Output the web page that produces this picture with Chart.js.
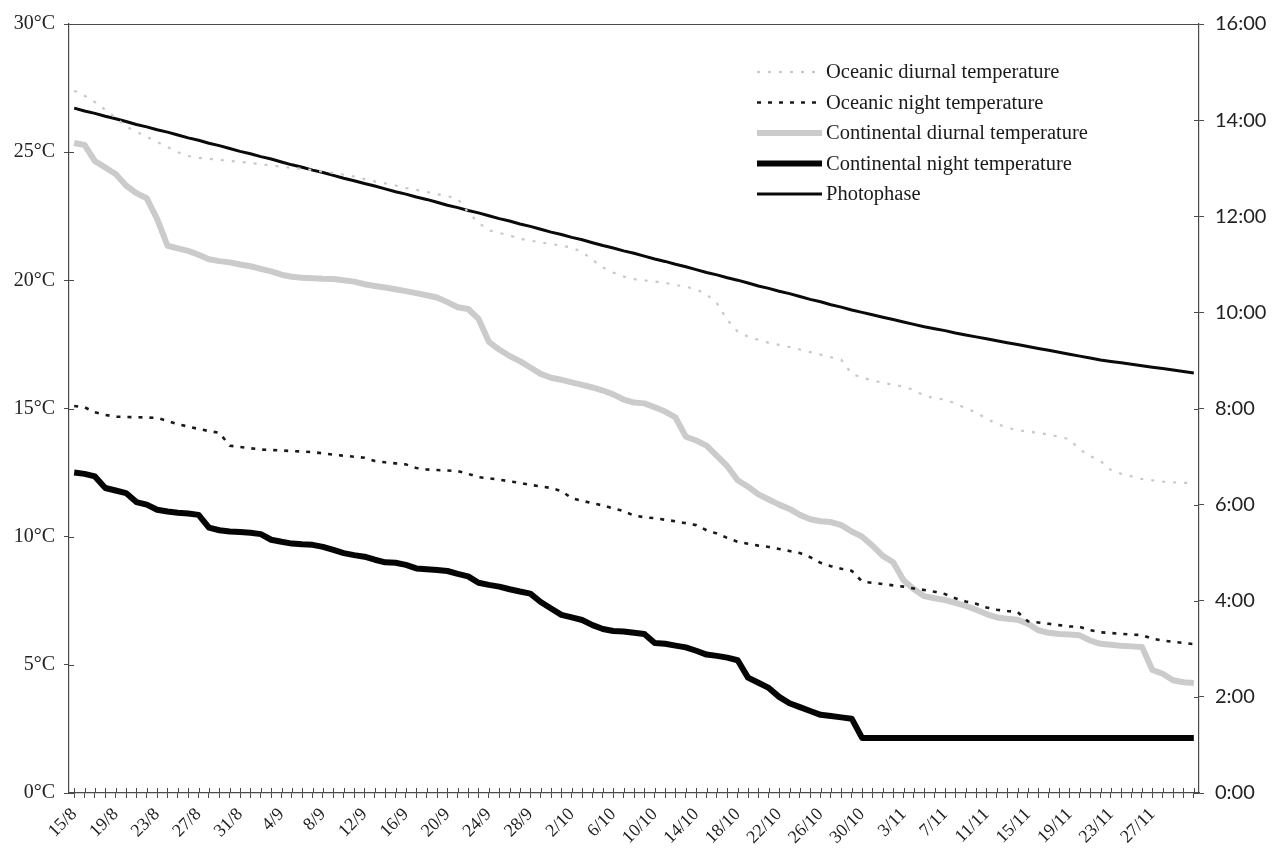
<!DOCTYPE html>
<html>
<head>
<meta charset="utf-8">
<script src="https://cdn.jsdelivr.net/npm/chart.js@4/dist/chart.umd.min.js"></script>
<style>
  html, body { margin: 0; padding: 0; background: #ffffff; }
  #wrap { width: 1273px; height: 854px; }
</style>
</head>
<body>
<div id="wrap"><canvas id="c" width="1273" height="854"></canvas></div>
<script>
// Categories: one per day, 15/8 to 1/12
const days = [
  "15/8","16/8","17/8","18/8","19/8","20/8","21/8","22/8","23/8","24/8","25/8","26/8","27/8","28/8","29/8","30/8","31/8",
  "1/9","2/9","3/9","4/9","5/9","6/9","7/9","8/9","9/9","10/9","11/9","12/9","13/9","14/9","15/9","16/9","17/9","18/9","19/9","20/9",
  "21/9","22/9","23/9","24/9","25/9","26/9","27/9","28/9","29/9","30/9",
  "1/10","2/10","3/10","4/10","5/10","6/10","7/10","8/10","9/10","10/10","11/10","12/10","13/10","14/10","15/10","16/10","17/10",
  "18/10","19/10","20/10","21/10","22/10","23/10","24/10","25/10","26/10","27/10","28/10","29/10","30/10","31/10",
  "1/11","2/11","3/11","4/11","5/11","6/11","7/11","8/11","9/11","10/11","11/11","12/11","13/11","14/11","15/11","16/11","17/11",
  "18/11","19/11","20/11","21/11","22/11","23/11","24/11","25/11","26/11","27/11","28/11","29/11","30/11",
  "1/12"
];

// Tick labels shown on the x axis
const tickLabels = ["15/8","19/8","23/8","27/8","31/8","4/9","8/9","12/9","16/9","20/9","24/9","28/9","2/10","6/10",
  "10/10","14/10","18/10","22/10","26/10","30/10","3/11","7/11","11/11","15/11","19/11","23/11","27/11"];

// Temperature tick values (°C) and photophase tick values (hours)
const tempTicks = [0, 5, 10, 15, 20, 25, 30];
const hourTicks = [0, 2, 4, 6, 8, 10, 12, 14, 16];

// Series (°C)
const oceanicDiurnal = [27.4,27.2,26.95,26.65,26.35,26.0,25.8,25.6,25.4,25.2,
  25.0,24.85,24.78,24.74,24.7,24.66,24.62,24.58,24.53,24.48,
  24.43,24.39,24.35,24.3,24.24,24.19,24.12,24.05,23.95,23.86,
  23.78,23.7,23.6,23.53,23.45,23.36,23.28,23.18,22.65,22.25,
  21.95,21.85,21.75,21.62,21.55,21.48,21.42,21.35,21.28,21.1,
  20.8,20.5,20.3,20.15,20.05,20.0,19.95,19.9,19.82,
  19.75,19.65,19.45,19.1,18.45,18.0,17.8,17.68,17.56,17.48,
  17.4,17.3,17.2,17.1,17.0,16.9,16.35,16.2,16.1,16.0,
  15.93,15.85,15.72,15.5,15.4,15.35,15.2,15.0,14.85,14.6,
  14.4,14.25,14.15,14.1,14.05,13.98,13.9,13.8,13.4,13.15,
  12.95,12.6,12.45,12.35,12.25,12.2,12.15,12.12,12.1,12.1];

const oceanicNight = [15.1,15.05,14.85,14.75,14.68,14.67,14.66,14.65,14.63,14.52,
  14.38,14.3,14.2,14.12,14.05,13.55,13.5,13.45,13.4,13.38,
  13.36,13.34,13.32,13.3,13.25,13.2,13.16,13.12,13.08,12.95,
  12.9,12.86,12.82,12.68,12.62,12.6,12.58,12.56,12.45,12.32,
  12.28,12.22,12.16,12.1,12.02,11.96,11.9,11.78,11.5,11.4,
  11.3,11.22,11.1,11.0,10.82,10.76,10.72,10.66,10.6,
  10.52,10.45,10.25,10.12,9.95,9.8,9.72,9.65,9.6,9.52,
  9.44,9.36,9.2,8.98,8.85,8.75,8.67,8.25,8.2,8.15,
  8.1,8.05,7.98,7.92,7.85,7.76,7.6,7.47,7.38,7.24,
  7.15,7.1,7.06,6.7,6.65,6.6,6.55,6.5,6.48,6.35,
  6.27,6.24,6.21,6.18,6.16,6.02,5.95,5.9,5.85,5.81];

const continentalDiurnal = [25.36,25.28,24.65,24.4,24.15,23.7,23.4,23.2,22.4,21.35,
  21.25,21.15,21.0,20.82,20.75,20.7,20.62,20.55,20.45,20.35,
  20.22,20.14,20.1,20.08,20.06,20.05,20.0,19.95,19.85,19.78,
  19.72,19.65,19.58,19.5,19.42,19.33,19.15,18.95,18.88,18.5,
  17.6,17.3,17.05,16.85,16.6,16.35,16.2,16.12,16.02,15.92,
  15.82,15.7,15.55,15.35,15.23,15.2,15.05,14.88,14.65,
  13.9,13.75,13.55,13.15,12.75,12.2,11.95,11.65,11.45,11.25,
  11.08,10.85,10.68,10.6,10.57,10.45,10.2,10.0,9.65,9.25,
  9.0,8.3,7.95,7.68,7.6,7.53,7.42,7.3,7.15,6.98,
  6.85,6.8,6.76,6.6,6.35,6.25,6.2,6.18,6.15,5.95,
  5.82,5.78,5.74,5.72,5.7,4.8,4.65,4.4,4.32,4.29];

const continentalNight = [12.5,12.45,12.35,11.9,11.8,11.7,11.35,11.25,11.05,10.98,
  10.93,10.9,10.85,10.35,10.25,10.2,10.18,10.15,10.1,9.88,
  9.8,9.73,9.7,9.68,9.6,9.48,9.36,9.28,9.22,9.1,
  9.0,8.98,8.9,8.76,8.73,8.7,8.66,8.55,8.45,8.2,
  8.12,8.05,7.95,7.86,7.78,7.45,7.2,6.95,6.85,6.75,
  6.55,6.4,6.32,6.3,6.25,6.2,5.85,5.82,5.75,
  5.68,5.55,5.4,5.35,5.28,5.18,4.5,4.3,4.1,3.75,
  3.5,3.35,3.2,3.05,3.0,2.95,2.9,2.15,2.15,2.15,
  2.15,2.15,2.15,2.15,2.15,2.15,2.15,2.15,2.15,2.15,
  2.15,2.15,2.15,2.15,2.15,2.15,2.15,2.15,2.15,2.15,
  2.15,2.15,2.15,2.15,2.15,2.15,2.15,2.15,2.15,2.15];

// Photophase (hours of daylight)
const photophase = [14.25,14.19,14.14,14.08,14.03,13.97,13.91,13.86,13.80,13.75,
  13.69,13.63,13.58,13.52,13.47,13.41,13.35,13.30,13.24,13.19,
  13.13,13.07,13.02,12.96,12.91,12.85,12.79,12.74,12.68,12.63,
  12.57,12.51,12.46,12.40,12.35,12.29,12.23,12.18,12.12,12.07,
  12.01,11.95,11.90,11.84,11.79,11.73,11.67,11.62,11.56,11.51,
  11.45,11.39,11.34,11.28,11.23,11.17,11.11,11.06,11.00,10.95,
  10.89,10.83,10.78,10.72,10.67,10.61,10.55,10.50,10.44,10.39,
  10.33,10.27,10.22,10.16,10.11,10.05,10.00,9.95,9.90,9.85,
  9.80,9.75,9.70,9.66,9.62,9.57,9.53,9.49,9.45,9.41,
  9.37,9.33,9.29,9.25,9.21,9.17,9.13,9.09,9.05,9.01,
  8.98,8.95,8.92,8.89,8.86,8.83,8.80,8.77,8.74];

const seriesNames = ["Oceanic diurnal temperature","Oceanic night temperature",
  "Continental diurnal temperature","Continental night temperature","Photophase"];

const SERIF = "'Liberation Serif', 'DejaVu Serif', serif";
const AXIS_COLOR = '#4a4a4a';

// Draws the tick marks crossing the axes, the top frame line and the in-plot legend
const framePlugin = {
  id: 'frame',
  afterDatasetsDraw(chart) {
    const ctx = chart.ctx;
    const a = chart.chartArea;
    ctx.save();
    ctx.strokeStyle = AXIS_COLOR;
    ctx.lineWidth = 1.2;
    ctx.beginPath();
    ctx.moveTo(a.left, a.top + 0.5);
    ctx.lineTo(a.right, a.top + 0.5);
    ctx.stroke();
    const xs = chart.scales.x;
    ctx.lineWidth = 1;
    ctx.beginPath();
    xs.ticks.forEach((t, i) => {
      const px = Math.round(xs.getPixelForTick(i)) + 0.5;
      ctx.moveTo(px, a.bottom - 5);
      ctx.lineTo(px, a.bottom);
    });
    const ys = chart.scales.y;
    ys.ticks.forEach((t, i) => {
      const py = Math.round(ys.getPixelForTick(i)) + 0.5;
      ctx.moveTo(a.left, py);
      ctx.lineTo(a.left + 5, py);
    });
    const y2 = chart.scales.y2;
    y2.ticks.forEach((t, i) => {
      const py = Math.round(y2.getPixelForTick(i)) + 0.5;
      ctx.moveTo(a.right - 5, py);
      ctx.lineTo(a.right, py);
    });
    ctx.stroke();

    // legend
    const lx0 = 757, lx1 = 822, tx = 826, y0 = 72, dy = 30.5;
    ctx.font = '20.5px ' + SERIF;
    ctx.textBaseline = 'middle';
    ctx.textAlign = 'left';
    chart.data.datasets.forEach((ds, i) => {
      const y = y0 + i * dy;
      ctx.save();
      ctx.strokeStyle = ds.borderColor;
      ctx.lineWidth = ds.borderWidth;
      ctx.setLineDash(ds.borderDash || []);
      ctx.lineCap = 'butt';
      ctx.beginPath();
      ctx.moveTo(lx0, y);
      ctx.lineTo(lx1, y);
      ctx.stroke();
      ctx.restore();
      ctx.fillStyle = '#1a1a1a';
      ctx.fillText(ds.label, tx, y + 1);
    });
    ctx.restore();
  }
};

const chart = new Chart(document.getElementById('c'), {
  type: 'line',
  data: {
    labels: days,
    datasets: [
      { label: seriesNames[0], data: oceanicDiurnal, yAxisID: 'y', borderColor: '#c8c8c8', borderWidth: 2.2, borderDash: [3, 8] },
      { label: seriesNames[1], data: oceanicNight, yAxisID: 'y', borderColor: '#1a1a1a', borderWidth: 2.6, borderDash: [4, 7] },
      { label: seriesNames[2], data: continentalDiurnal, yAxisID: 'y', borderColor: '#cbcbcb', borderWidth: 6 },
      { label: seriesNames[3], data: continentalNight, yAxisID: 'y', borderColor: '#050505', borderWidth: 6 },
      { label: seriesNames[4], data: photophase, yAxisID: 'y2', borderColor: '#0a0a0a', borderWidth: 3 }
    ]
  },
  options: {
    responsive: false,
    animation: false,
    layout: { padding: { top: 24, left: 0, right: 0, bottom: 0 } },
    elements: {
      point: { radius: 0, hoverRadius: 0 },
      line: { tension: 0, borderJoinStyle: 'round', borderCapStyle: 'butt', fill: false }
    },
    plugins: {
      legend: { display: false },
      tooltip: { enabled: false }
    },
    scales: {
      x: {
        offset: true,
        afterFit(s) { s.height = 61; },
        grid: { drawOnChartArea: false, drawTicks: true, tickLength: 5, color: AXIS_COLOR, offset: false },
        border: { display: true, color: AXIS_COLOR, width: 1.2 },
        ticks: {
          autoSkip: false,
          maxRotation: 45,
          minRotation: 45,
          padding: 6,
          color: '#222',
          font: { family: SERIF, size: 18 },
          callback(v, i) { const l = days[i]; return tickLabels.includes(l) ? l : ''; }
        }
      },
      y: {
        position: 'left',
        min: tempTicks[0],
        max: tempTicks[tempTicks.length - 1],
        afterFit(s) { s.width = 69; },
        afterBuildTicks(s) { s.ticks = tempTicks.map(v => ({ value: v })); },
        grid: { drawOnChartArea: false, drawTicks: true, tickLength: 5, color: AXIS_COLOR },
        border: { display: true, color: AXIS_COLOR, width: 1.2 },
        ticks: {
          padding: 9,
          color: '#222',
          font: { family: SERIF, size: 20 },
          callback(v) { return v + '°C'; }
        }
      },
      y2: {
        position: 'right',
        min: hourTicks[0],
        max: hourTicks[hourTicks.length - 1],
        afterFit(s) { s.width = 74; },
        afterBuildTicks(s) { s.ticks = hourTicks.map(v => ({ value: v })); },
        grid: { drawOnChartArea: false, drawTicks: true, tickLength: 5, color: AXIS_COLOR },
        border: { display: true, color: AXIS_COLOR, width: 1.2 },
        ticks: {
          padding: 11,
          color: '#222',
          font: { family: "Lato, 'Liberation Sans', sans-serif", size: 20 },
          callback(v) { return v + ':00'; }
        }
      }
    }
  },
  plugins: [framePlugin]
});
</script>
</body>
</html>
